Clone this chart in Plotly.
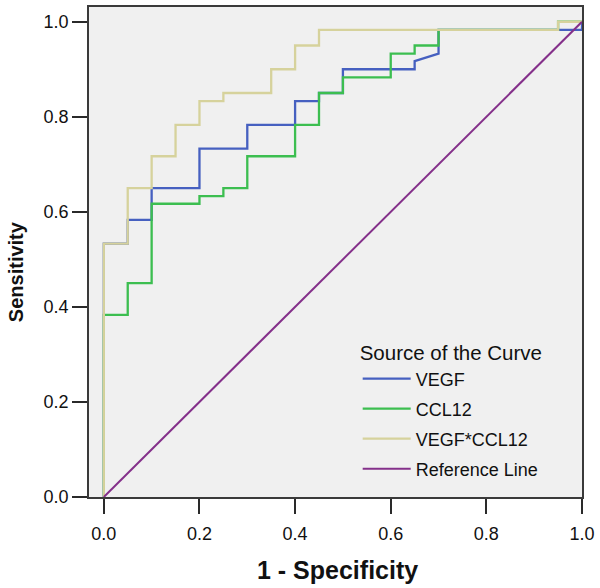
import plotly.graph_objects as go

# ROC curve coordinates (1 - Specificity, Sensitivity)
vegf_x = [0, 0, 0.05, 0.05, 0.10, 0.10, 0.20, 0.20, 0.30, 0.30, 0.40, 0.40, 0.45, 0.45,
          0.50, 0.50, 0.65, 0.65, 0.70, 0.70, 1.00, 1.00]
vegf_y = [0, 0.533, 0.533, 0.583, 0.583, 0.650, 0.650, 0.733, 0.733, 0.783, 0.783, 0.833,
          0.833, 0.850, 0.850, 0.900, 0.900, 0.917, 0.933, 0.983, 0.983, 1.000]

ccl12_x = [0, 0, 0.05, 0.05, 0.10, 0.10, 0.20, 0.20, 0.25, 0.25, 0.30, 0.30, 0.40, 0.40,
           0.45, 0.45, 0.50, 0.50, 0.60, 0.60, 0.65, 0.65, 0.70, 0.70, 0.95, 0.95, 1.00]
ccl12_y = [0, 0.383, 0.383, 0.450, 0.450, 0.617, 0.617, 0.633, 0.633, 0.650, 0.650, 0.717,
           0.717, 0.783, 0.783, 0.850, 0.850, 0.883, 0.883, 0.933, 0.933, 0.950, 0.950,
           0.983, 0.983, 1.000, 1.000]

combo_x = [0, 0, 0.05, 0.05, 0.10, 0.10, 0.15, 0.15, 0.20, 0.20, 0.25, 0.25, 0.35, 0.35,
           0.40, 0.40, 0.45, 0.45, 0.95, 0.95, 1.00]
combo_y = [0, 0.533, 0.533, 0.650, 0.650, 0.717, 0.717, 0.783, 0.783, 0.833, 0.833, 0.850,
           0.850, 0.900, 0.900, 0.950, 0.950, 0.983, 0.983, 1.000, 1.000]

ref_x = [0, 1]
ref_y = [0, 1]

tick_vals = [0.0, 0.2, 0.4, 0.6, 0.8, 1.0]
tick_text = ["0.0", "0.2", "0.4", "0.6", "0.8", "1.0"]

series = [
    ("VEGF", vegf_x, vegf_y, "#4660C0", 2.3),
    ("CCL12", ccl12_x, ccl12_y, "#3CBE50", 2.3),
    ("VEGF*CCL12", combo_x, combo_y, "#D6D29C", 2.3),
    ("Reference Line", ref_x, ref_y, "#84308A", 2.0),
]

FONT = "Liberation Sans, Arial, sans-serif"

fig = go.Figure()
for i, (name, xs, ys, col, w) in enumerate(series):
    fig.add_trace(go.Scatter(
        x=xs, y=ys, mode="lines", name=name, legendgroup=f"g{i}",
        line=dict(color=col, width=w), hoverinfo="skip",
    ))

axis_common = dict(
    showgrid=False, zeroline=False, showline=True, linecolor="#3a3a3a", linewidth=1.5,
    mirror=True, ticks="outside", ticklen=15, tickwidth=2, tickcolor="#2a2a2a",
    tickvals=tick_vals, ticktext=tick_text,
    tickfont=dict(family=FONT, size=18, color="#111"),
)

fig.update_layout(
    width=600, height=588,
    margin=dict(l=89, r=17, t=5, b=91),
    paper_bgcolor="white", plot_bgcolor="#F0F0F0",
    xaxis=dict(range=[-0.031, 1.0], ticklabelstandoff=5, **axis_common),
    yaxis=dict(range=[0, 1.031], **axis_common),
    showlegend=True,
    legend=dict(
        x=0.545, y=0.333, xanchor="left", yanchor="top",
        bgcolor="rgba(0,0,0,0)", borderwidth=0,
        font=dict(family=FONT, size=18, color="#111"),
        title=dict(text="Source of the Curve", font=dict(family=FONT, size=20.5, color="#111")),
        itemwidth=48, tracegroupgap=3.6, traceorder="grouped",
    ),
    annotations=[
        dict(text="<b>Sensitivity</b>", xref="paper", yref="paper",
             x=-0.149, y=0.46, textangle=-90, showarrow=False,
             font=dict(family=FONT, size=20, color="#111"), xanchor="center", yanchor="middle"),
        dict(text="<b>1 - Specificity</b>", xref="paper", yref="paper",
             x=0.504, y=-0.148, showarrow=False,
             font=dict(family=FONT, size=25, color="#111"), xanchor="center", yanchor="middle"),
    ],
)

fig.write_html("out.html", config={"displayModeBar": False},
               post_script="document.body.style.margin='0';")
